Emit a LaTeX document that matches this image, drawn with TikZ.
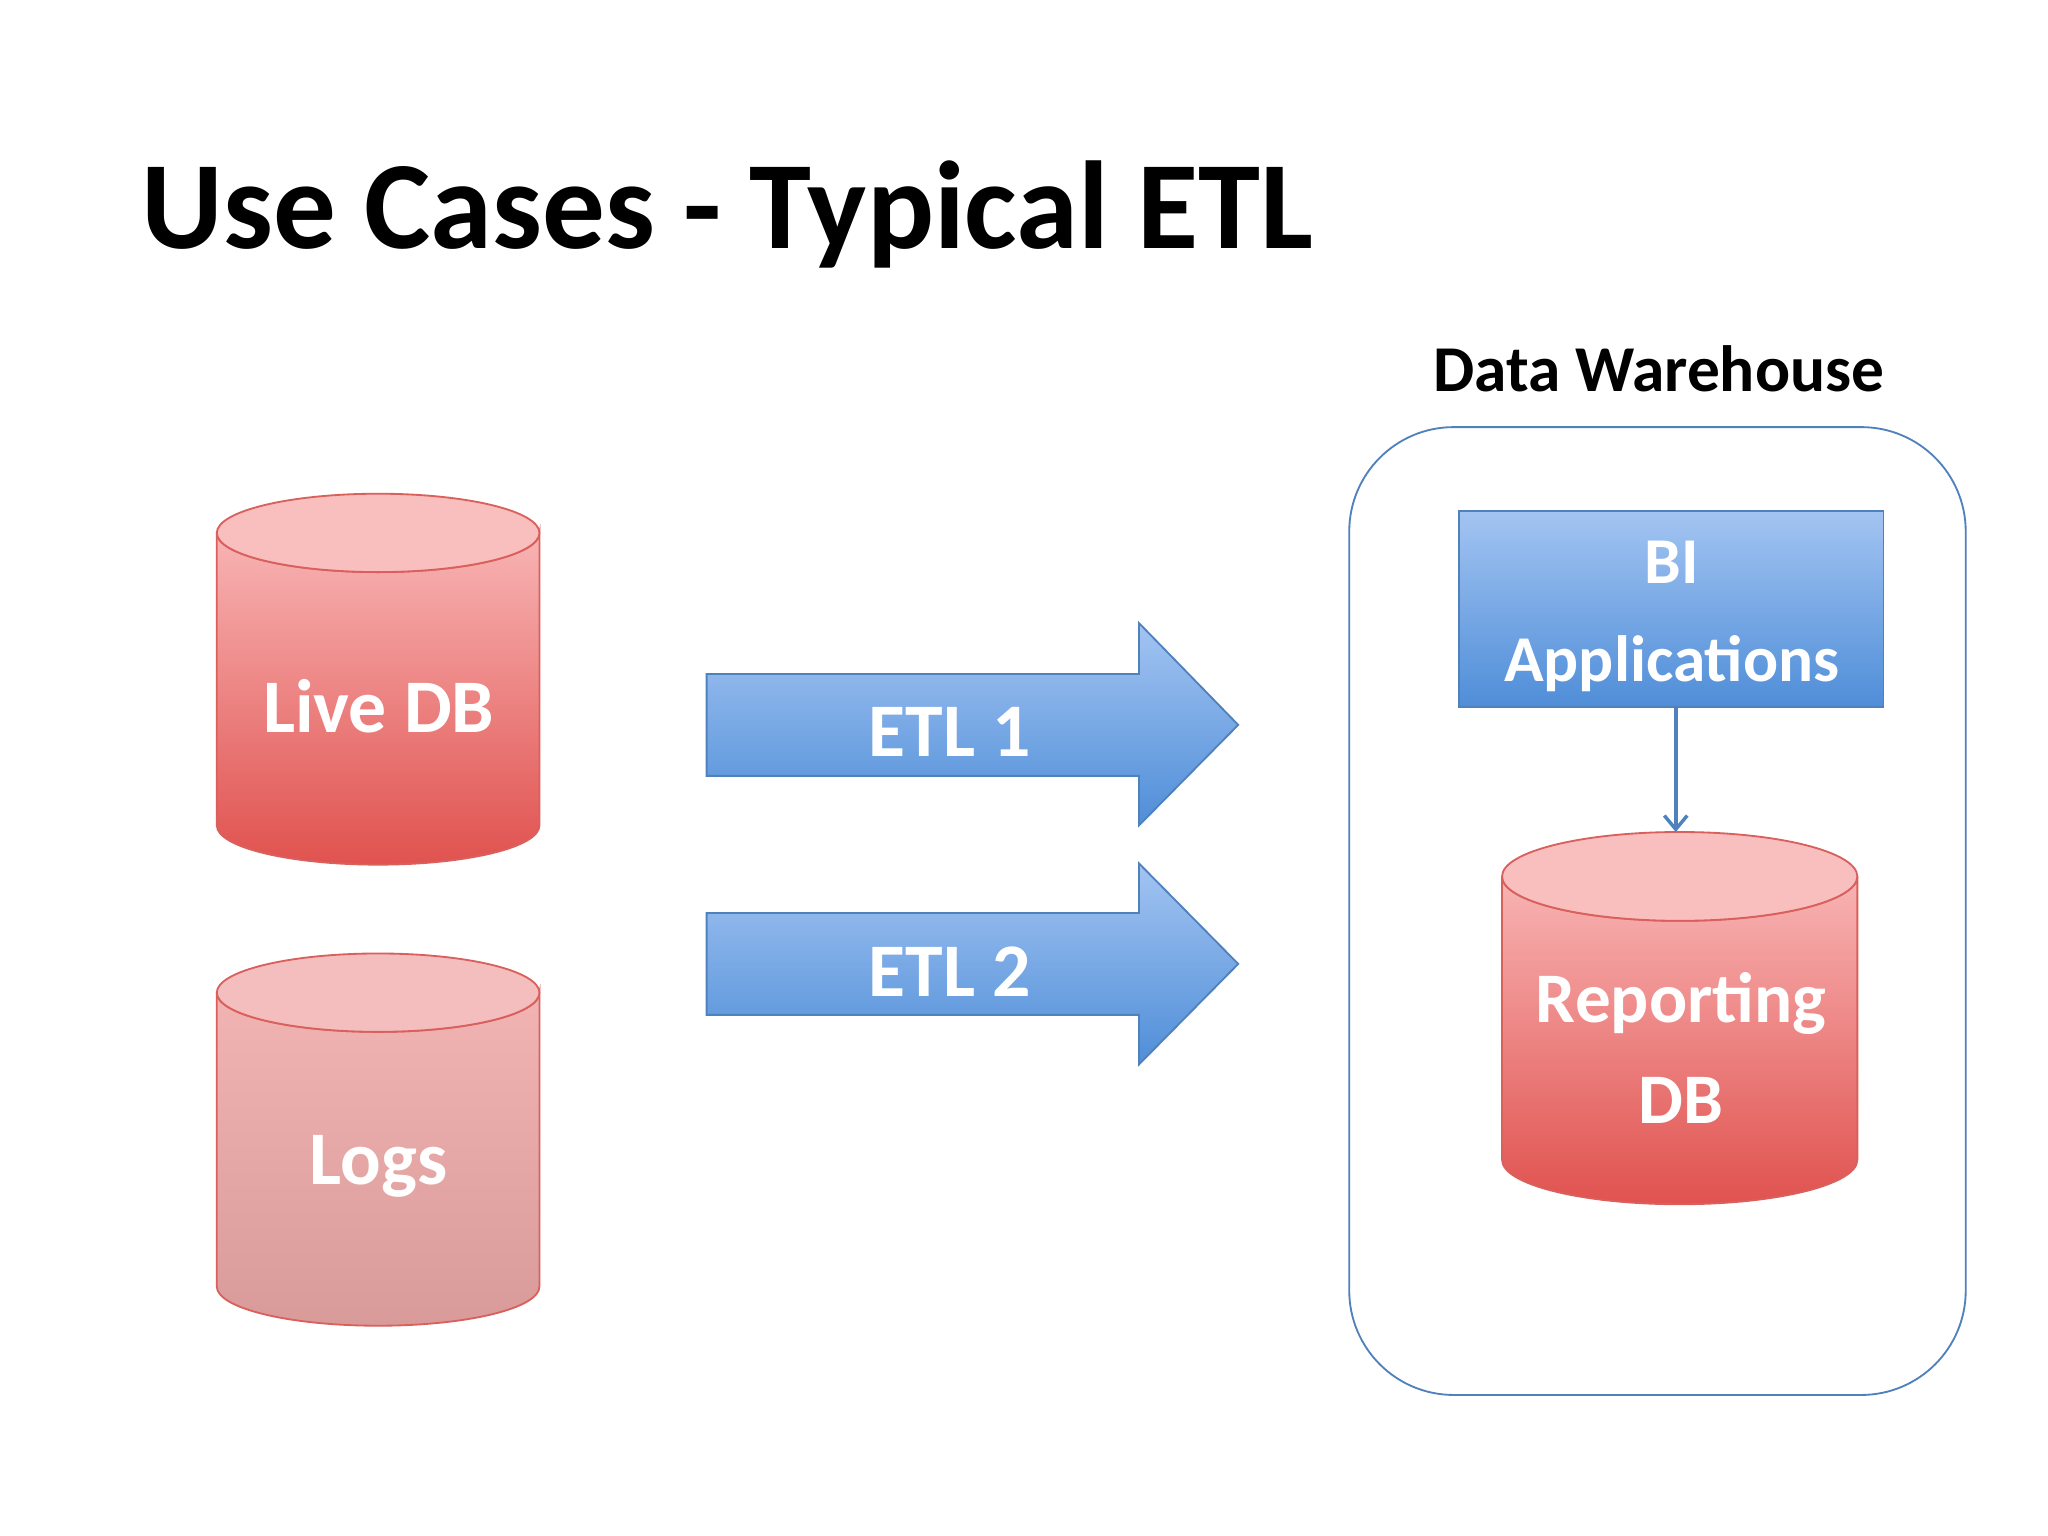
\documentclass[tikz,border=0pt]{standalone}
\usepackage{fontspec}
\setmainfont{Carlito}
\usetikzlibrary{arrows.meta}
\definecolor{redtop}{HTML}{F8B4B4}
\definecolor{redbot}{HTML}{E0524F}
\definecolor{logtop}{HTML}{F2B3B3}
\definecolor{logbot}{HTML}{D99B9A}
\definecolor{redline}{HTML}{D9605C}
\definecolor{bluetop}{HTML}{A3C4F2}
\definecolor{bluebot}{HTML}{4F8ED8}
\definecolor{blueline}{HTML}{4F81BD}
\tikzset{
  lbl/.style={text=white,font=\bfseries\fontsize{33}{40}\selectfont,align=center},
  cylline/.style={draw=redline,line width=0.8pt},
}
\newcommand{\mycyl}[7]{% x1 x2 ytop ybot topcolor botcolor ry
  \pgfmathsetmacro{\rx}{(#2-#1)/2}
  \shade[top color=#5,bottom color=#6,cylline]
    (#1,#3) -- (#1,#4) arc[start angle=180,end angle=0,x radius=\rx,y radius=#7]
    -- (#2,#3) arc[start angle=0,end angle=180,x radius=\rx,y radius=#7] -- cycle;
  \fill[#5!85!white,cylline] ({(#1+#2)/2},#3) ellipse[x radius=\rx,y radius=#7];
}
\begin{document}
\begin{tikzpicture}[x=0.02cm,y=-0.02cm]
\useasboundingbox[fill=white] (0,0) rectangle (1568,1176);
\node[anchor=base west,font=\bfseries\fontsize{54.5}{60}\selectfont,inner sep=0] (title) at (108,190) {Use Cases - Typical ETL};

\mycyl{166}{413}{408}{632}{redtop}{redbot}{30}
\node[lbl] (live) at (290,541) {Live DB};
\mycyl{166}{413}{760}{985}{logtop}{logbot}{30}
\node[lbl] (logs) at (290,893) {Logs};

\shade[top color=bluetop,bottom color=bluebot,draw=blueline,line width=0.8pt]
  (541,516) -- (872,516) -- (872,477) -- (948,555) -- (872,632) -- (872,594) -- (541,594) -- cycle;
\node[lbl] (etl1) at (727,560) {ETL 1};
\shade[top color=bluetop,bottom color=bluebot,draw=blueline,line width=0.8pt]
  (541,699) -- (872,699) -- (872,661) -- (948,738) -- (872,815) -- (872,777) -- (541,777) -- cycle;
\node[lbl] (etl2) at (727,744) {ETL 2};

\node[font=\bfseries\fontsize{28.5}{32}\selectfont] (dwl) at (1270,282) {Data Warehouse};
\draw[blueline,line width=0.8pt,rounded corners=1.6cm] (1033,327) rectangle (1505,1068);

\shade[top color=bluetop,bottom color=bluebot,draw=blueline,line width=0.8pt] (1117,391) rectangle (1442,541);
\node[lbl,font=\bfseries\fontsize{28.5}{43}\selectfont] (bi) at (1280,472) {BI\\Applications};
\coordinate (bib) at (1283,541);
\mycyl{1150}{1422}{671}{888}{redtop}{redbot}{34}
\node[lbl,font=\bfseries\fontsize{31}{44}\selectfont] (rep) at (1287,802) {Reporting\\DB};
\coordinate (rept) at (1283,637);
\draw[blueline,line width=1.5pt,-{Straight Barb[length=6pt,width=10pt]}] (bib) -- (rept);
\end{tikzpicture}
\end{document}
